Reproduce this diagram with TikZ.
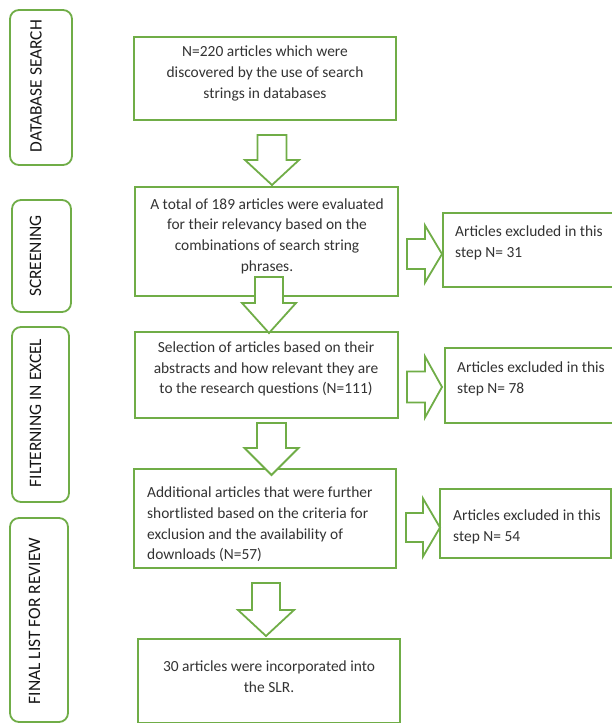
\documentclass[tikz,border=0pt]{standalone}
\usepackage{fontspec}
\setmainfont{Carlito}
\definecolor{grn}{HTML}{70AD47}
\definecolor{ink}{HTML}{333333}
\definecolor{lblink}{HTML}{161616}
% block arrow pointing down: centre x, top, neck, tip, shaft half width, head half width
\newcommand\downblock[6]{%
  \draw[blockarrow] (#1-#5,#2) -- (#1+#5,#2) -- (#1+#5,#3) -- (#1+#6,#3) -- (#1,#4)
    -- (#1-#6,#3) -- (#1-#5,#3) -- cycle;}
% block arrow pointing right: left, neck, tip, centre y, shaft half width, head half width
\newcommand\rightblock[6]{%
  \draw[blockarrow] (#1,#4-#5) -- (#2,#4-#5) -- (#2,#4-#6) -- (#3,#4) -- (#2,#4+#6)
    -- (#2,#4+#5) -- (#1,#4+#5) -- cycle;}
\begin{document}
\begin{tikzpicture}[x=1bp,y=-1bp,
  frame/.style={draw=grn, line width=1.8bp, fill=white, inner sep=0pt},
  stage/.style={frame, rounded corners=9bp},
  blockarrow/.style={draw=grn, line width=1.8bp, fill=white, line join=miter},
  txt/.style={inner sep=0pt, text=ink, font=\fontsize{15.5}{20.8}\selectfont},
  stagetxt/.style={inner sep=0pt, text=lblink, rotate=90, font=\fontsize{17.5}{20}\selectfont}]
\clip (0,0) rectangle (612,723);
\fill[white] (0,0) rectangle (612,723);

% stage labels on the left
\node[stage, minimum width=62bp, minimum height=155bp] (s1) at (41,87.5) {};
\node[stage, minimum width=59bp, minimum height=112bp] (s2) at (41.5,256) {};
\node[stage, minimum width=57bp, minimum height=175bp] (s3) at (40.5,414.5) {};
\node[stage, minimum width=58bp, minimum height=204bp] (s4) at (39,620) {};
\node[stagetxt] at (36,86) {DATABASE SEARCH};
\node[stagetxt] at (35.5,256) {SCREENING};
\node[stagetxt] at (35.5,413) {FILTERNING IN EXCEL};
\node[stagetxt] at (34.5,621) {FINAL LIST FOR REVIEW};

% main flow boxes
\node[frame, minimum width=262bp, minimum height=83bp] (b1) at (265,78.5) {};
\node[frame, minimum width=263bp, minimum height=109bp] (b2) at (266.5,241.5) {};
\node[frame, minimum width=263bp, minimum height=86bp] (b3) at (266.5,375) {};
\node[frame, minimum width=262bp, minimum height=99bp] (b4) at (265,518.5) {};
\node[frame, minimum width=262bp, minimum height=84bp] (b5) at (269,681) {};

% exclusion boxes on the right
\node[frame, minimum width=175bp, minimum height=74bp] (r1) at (530.5,250) {};
\node[frame, minimum width=173bp, minimum height=75bp] (r2) at (531.5,385.5) {};
\node[frame, minimum width=171bp, minimum height=69bp] (r3) at (525.5,523.5) {};

% block arrows between the stages
\downblock{272}{135}{160}{185}{14.5}{27}
\downblock{269}{277}{303}{333}{14}{27}
\downblock{271.5}{423}{448}{475}{14.5}{27}
\downblock{266}{583}{610}{636}{14}{28}
\rightblock{407}{425}{442}{254}{15}{28.5}
\rightblock{407}{425}{442}{387}{15.5}{30.5}
\rightblock{406}{423}{440}{527.5}{14.5}{29}

% texts
\node[txt, align=center] at (265,73.5) {N=220 articles which were\\discovered by the use of search\\strings in databases};
\node[txt, align=center] at (267,236) {A total of 189 articles were evaluated\\for their relevancy based on the\\combinations of search string\\phrases.};
\node[txt, align=center] at (266,369) {Selection of articles based on their\\abstracts and how relevant they are\\to the research questions (N=111)};
\node[txt, align=left, anchor=west] at (147,524.5) {Additional articles that were further\\shortlisted based on the criteria for\\exclusion and the availability of\\downloads (N=57)};
\node[txt, align=center] at (269,676.5) {30 articles were incorporated into\\the SLR.};
\node[txt, align=left, anchor=west] at (455,243) {Articles excluded in this\\step N= 31};
\node[txt, align=left, anchor=west] at (457,379) {Articles excluded in this\\step N= 78};
\node[txt, align=left, anchor=west] at (453,527) {Articles excluded in this\\step N= 54};
\end{tikzpicture}
\end{document}
